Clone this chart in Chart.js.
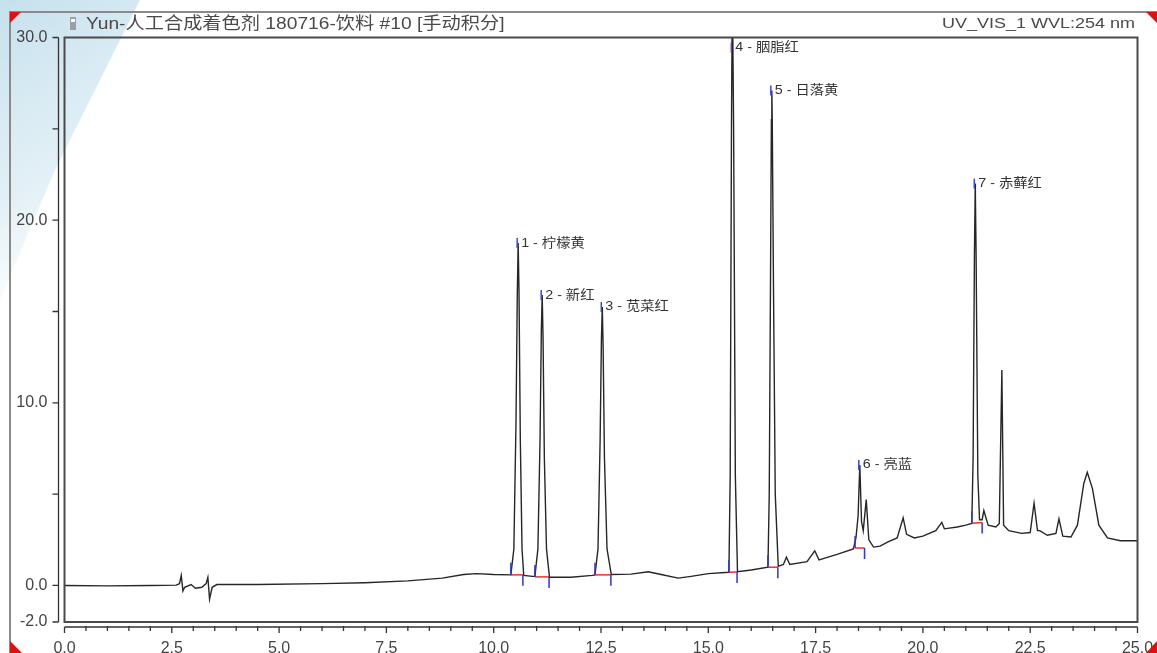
<!DOCTYPE html>
<html>
<head>
<meta charset="utf-8">
<script src="https://cdn.jsdelivr.net/npm/chart.js@4.4.1/dist/chart.umd.min.js"></script>
<style>
  html, body { margin: 0; padding: 0; background: #ffffff; }
  #wrap { width: 1157px; height: 653px; position: relative; overflow: hidden; }
  canvas { display: block; }
</style>
</head>
<body>
<div id="wrap"><canvas id="chrom" width="1157" height="653"></canvas></div>
<script>
// Chromatogram trace: retention time (min) and detector signal (mAU)
const retentionTimes = [
  0.0, 1.0, 2.0, 2.6, 2.68, 2.72, 2.76, 2.8, 2.95, 3.05, 3.2, 3.3, 3.34, 3.38, 3.44, 3.55,
  4.5, 6.0, 7.0, 8.0, 8.8, 9.3, 9.6, 10.0, 10.40,
  10.47, 10.52, 10.55, 10.57, 10.59, 10.62, 10.66, 10.70,
  10.9, 10.96,
  11.03, 11.08, 11.11, 11.13, 11.15, 11.18, 11.23, 11.30,
  11.8, 12.3, 12.36,
  12.43, 12.48, 12.51, 12.53, 12.55, 12.58, 12.64, 12.74,
  13.2, 13.6, 13.9, 14.3, 14.6, 15.0, 15.48,
  15.51, 15.54, 15.56, 15.59, 15.63, 15.68,
  16.0, 16.39,
  16.42, 16.45, 16.47, 16.48, 16.49, 16.52, 16.56, 16.63,
  16.75, 16.82, 16.9, 17.3, 17.48, 17.58, 18.0, 18.38,
  18.44, 18.49, 18.53, 18.57, 18.61, 18.68, 18.74, 18.85,
  19.0, 19.2, 19.4, 19.54, 19.62, 19.8, 20.0, 20.3, 20.44, 20.5, 20.8, 21.0, 21.14,
  21.17, 21.20, 21.22, 21.24, 21.28, 21.32, 21.38, 21.42, 21.52, 21.7, 21.78, 21.84, 21.88,
  22.0, 22.3, 22.5, 22.59, 22.67, 22.72, 22.9, 23.1, 23.17, 23.26, 23.45,
  23.6, 23.75, 23.83, 23.95, 24.1, 24.3, 24.6, 25.0
];
const signal = [
  0.0, -0.02, 0.0, 0.02, 0.1, 0.55, -0.3, -0.1, 0.05, -0.15, -0.1, 0.1, 0.45, -0.75, -0.1, 0.05,
  0.05, 0.1, 0.15, 0.25, 0.4, 0.6, 0.65, 0.6, 0.58,
  2.0, 9.0, 16.0, 18.75, 16.0, 8.0, 2.0, 0.55,
  0.5, 0.5,
  2.0, 8.0, 14.0, 15.9, 13.5, 7.0, 2.0, 0.45,
  0.45, 0.55, 0.58,
  2.0, 8.0, 13.5, 15.25, 13.0, 7.0, 2.0, 0.6,
  0.62, 0.75, 0.6, 0.4, 0.5, 0.65, 0.72,
  6.0, 25.0, 33.0, 25.0, 6.0, 0.75,
  0.85, 1.0,
  5.0, 17.0, 25.5, 27.1, 25.5, 16.0, 5.0, 1.05,
  1.15, 1.55, 1.15, 1.3, 1.9, 1.4, 1.7, 2.0,
  2.6, 3.8, 6.6, 3.5, 3.0, 4.7, 2.5, 2.1,
  2.15, 2.4, 2.6, 3.7, 2.8, 2.6, 2.7, 3.0, 3.45, 3.1, 3.2, 3.3, 3.4,
  7.0, 18.0, 22.0, 18.0, 6.0, 3.6, 3.6, 4.1, 3.3, 3.2, 3.4, 11.8, 3.3,
  3.0, 2.85, 2.9, 4.5, 3.0, 3.0, 2.75, 2.85, 3.65, 2.7, 2.65,
  3.3, 5.6, 6.2, 5.3, 3.3, 2.6, 2.45, 2.45
];

// Axis ticks
const xTickValues = [0, 2.5, 5, 7.5, 10, 12.5, 15, 17.5, 20, 22.5, 25];
const xMinorStep = 0.5;
const yTickValues = [-2, 0, 10, 20, 30];
const yMinorValues = [5, 15, 25];

// Integrated peaks
const peakNames = ['1 - 柠檬黄', '2 - 新红', '3 - 苋菜红', '4 - 胭脂红', '5 - 日落黄', '6 - 亮蓝', '7 - 赤藓红'];
const peakApexTimes = [10.57, 11.13, 12.53, 15.56, 16.48, 18.53, 21.22];
const peakApexValues = [18.75, 15.9, 15.25, 33.0, 27.1, 6.6, 22.0];
const peakStartTimes = [10.40, 10.96, 12.36, 15.48, 16.39, 18.42, 21.14];
const peakStartValues = [0.58, 0.47, 0.58, 0.72, 1.0, 2.05, 3.4];
const peakEndTimes = [10.68, 11.29, 12.73, 15.67, 16.62, 18.64, 21.38];
const peakEndValues = [0.58, 0.47, 0.58, 0.74, 1.0, 2.05, 3.45];

const titleText = 'Yun-人工合成着色剂 180716-饮料 #10 [手动积分]';
const channelText = 'UV_VIS_1 WVL:254 nm';

const FONT = '"Liberation Sans", Arial, "Noto Sans CJK SC", sans-serif';
const TEXT_STRETCH = 1.1;

function drawText(ctx, text, x, y, size, color, align, stretch) {
  ctx.save();
  ctx.font = size + 'px ' + FONT;
  ctx.fillStyle = color;
  ctx.textBaseline = 'middle';
  const w = ctx.measureText(text).width * stretch;
  let x0 = x;
  if (align === 'right') x0 = x - w;
  else if (align === 'center') x0 = x - w / 2;
  ctx.translate(x0, y);
  ctx.scale(stretch, 1);
  ctx.textAlign = 'left';
  ctx.fillText(text, 0, 0);
  ctx.restore();
}

// Light watermark tint in the upper-left corner
const backdrop = {
  id: 'backdrop',
  beforeDraw(chart) {
    const ctx = chart.ctx;
    ctx.save();
    ctx.fillStyle = '#ffffff';
    ctx.fillRect(0, 0, chart.width, chart.height);
    const g = ctx.createLinearGradient(0, 0, 160, 240);
    g.addColorStop(0, 'rgba(150,200,222,0.55)');
    g.addColorStop(0.6, 'rgba(175,212,230,0.35)');
    g.addColorStop(1, 'rgba(200,225,238,0)');
    ctx.fillStyle = g;
    ctx.beginPath();
    ctx.moveTo(0, 0);
    ctx.lineTo(140, 0);
    ctx.lineTo(110, 60);
    ctx.lineTo(55, 170);
    ctx.lineTo(0, 300);
    ctx.closePath();
    ctx.fill();
    ctx.restore();
  }
};

// Frame, axes, title and peak annotations
const frame = {
  id: 'frame',
  afterDraw(chart) {
    const ctx = chart.ctx;
    const xs = chart.scales.x, ys = chart.scales.y;
    const area = chart.chartArea;
    const px = v => xs.getPixelForValue(v);
    const py = v => ys.getPixelForValue(v);

    ctx.save();
    // outer panel frame
    ctx.strokeStyle = '#8a8a8a';
    ctx.lineWidth = 2;
    ctx.beginPath();
    ctx.moveTo(10, 653);
    ctx.lineTo(10, 12);
    ctx.lineTo(1157, 12);
    ctx.stroke();

    // corner markers
    ctx.fillStyle = '#e01010';
    const tri = (a, b, c) => { ctx.beginPath(); ctx.moveTo(...a); ctx.lineTo(...b); ctx.lineTo(...c); ctx.closePath(); ctx.fill(); };
    tri([10, 12], [21, 12], [10, 23]);
    tri([1157, 12], [1146, 12], [1157, 23]);
    tri([10, 653], [10, 641], [22, 653]);
    tri([1157, 653], [1157, 641], [1146, 653]);

    // plot box
    ctx.strokeStyle = '#4a4a4a';
    ctx.lineWidth = 2;
    ctx.strokeRect(px(0), py(30), px(25) - px(0), py(-2) - py(30));

    // y axis
    ctx.strokeStyle = '#333333';
    ctx.lineWidth = 1.3;
    const yAxisX = px(0) - 6;
    ctx.beginPath();
    ctx.moveTo(yAxisX, py(30));
    ctx.lineTo(yAxisX, py(-2));
    yTickValues.concat(yMinorValues).forEach(v => {
      ctx.moveTo(yAxisX, py(v));
      ctx.lineTo(yAxisX - 6, py(v));
    });
    ctx.stroke();

    // x axis
    const xAxisY = py(-2) + 5;
    ctx.beginPath();
    ctx.moveTo(px(0), xAxisY);
    ctx.lineTo(px(25), xAxisY);
    for (let i = 0; i <= 50; i++) {
      const v = i * xMinorStep;
      const major = xTickValues.includes(v);
      ctx.moveTo(px(v), xAxisY - (major ? 0 : 1));
      ctx.lineTo(px(v), xAxisY + (major ? 6 : 4));
    }
    ctx.stroke();

    // title row
    ctx.fillStyle = '#9aa0a6';
    ctx.fillRect(70, 17, 6, 13);
    ctx.fillStyle = '#ffffff';
    ctx.fillRect(71, 19, 4, 3);
    drawText(ctx, titleText, 86, 24, 17, '#4a4a4a', 'left', 1.13);
    drawText(ctx, channelText, 1135, 24, 15, '#4a4a4a', 'right', 1.2);

    // integration baselines and delimiters
    peakStartTimes.forEach((t0, i) => {
      const x0 = px(t0), y0 = py(peakStartValues[i]);
      const x1 = px(peakEndTimes[i]), y1 = py(peakEndValues[i]);
      ctx.strokeStyle = '#e83030';
      ctx.lineWidth = 1.5;
      ctx.beginPath();
      ctx.moveTo(x0, y0);
      ctx.lineTo(x1, y1);
      ctx.stroke();
      ctx.strokeStyle = '#2838d8';
      ctx.beginPath();
      ctx.moveTo(x0, y0);
      ctx.lineTo(x0, y0 - 12);
      ctx.moveTo(x1, y1);
      ctx.lineTo(x1, y1 + 11);
      ctx.stroke();
    });

    // peak labels
    peakNames.forEach((name, i) => {
      const x = px(peakApexTimes[i]);
      const y = Math.max(py(peakApexValues[i]), area.top + 10);
      ctx.strokeStyle = '#3848e0';
      ctx.lineWidth = 1.5;
      ctx.beginPath();
      ctx.moveTo(x - 1, y - 5);
      ctx.lineTo(x - 1, y + 5);
      ctx.stroke();
      drawText(ctx, name, x + 3, y, 13, '#333333', 'left', TEXT_STRETCH);
    });
    ctx.restore();
  }
};

const points = retentionTimes.map((t, i) => ({ x: t, y: signal[i] }));

new Chart(document.getElementById('chrom'), {
  type: 'line',
  data: {
    datasets: [{
      data: points,
      borderColor: '#262626',
      borderWidth: 1.4,
      pointRadius: 0,
      tension: 0,
      fill: false
    }]
  },
  options: {
    responsive: false,
    animation: false,
    devicePixelRatio: 1,
    layout: { padding: { left: 0, top: 37.5, right: 19.5, bottom: 0 } },
    plugins: { legend: { display: false }, tooltip: { enabled: false } },
    scales: {
      x: {
        type: 'linear',
        min: 0,
        max: 25,
        grid: { display: false, drawTicks: false },
        border: { display: false },
        afterBuildTicks: s => { s.ticks = xTickValues.map(v => ({ value: v })); },
        afterFit: s => { s.height = 31; s.paddingLeft = 0; s.paddingRight = 0; },
        ticks: {
          autoSkip: false,
          maxRotation: 0,
          padding: 17,
          color: '#444444',
          font: { family: FONT, size: 16 },
          callback: v => Number(v).toFixed(1)
        }
      },
      y: {
        type: 'linear',
        min: -2,
        max: 30,
        grid: { display: false, drawTicks: false },
        border: { display: false },
        afterBuildTicks: s => { s.ticks = yTickValues.map(v => ({ value: v })); },
        afterFit: s => { s.width = 64.5; s.paddingTop = 0; s.paddingBottom = 0; },
        ticks: {
          autoSkip: false,
          padding: 17,
          color: '#444444',
          font: { family: FONT, size: 16 },
          callback: v => Number(v).toFixed(1)
        }
      }
    }
  },
  plugins: [backdrop, frame]
});
</script>
</body>
</html>
